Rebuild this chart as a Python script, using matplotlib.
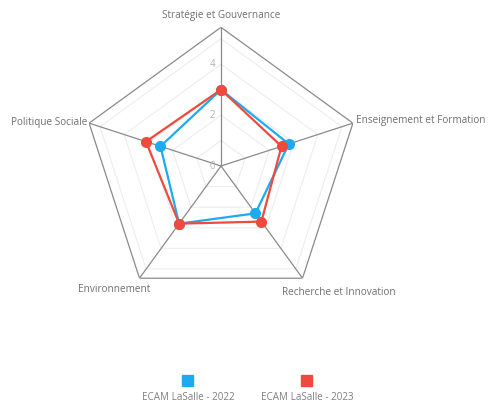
import numpy as np
import matplotlib.pyplot as plt
from matplotlib.patches import Rectangle

categories = ['Stratégie et Gouvernance', 'Enseignement et Formation',
              'Recherche et Innovation', 'Environnement', 'Politique Sociale']
scores_2022 = [3.0, 2.8, 2.3, 2.8, 2.5]
scores_2023 = [3.0, 2.5, 2.7, 2.8, 3.1]
series_names = ['ECAM LaSalle - 2022', 'ECAM LaSalle - 2023']
tick_values = [0, 2, 4]

blue = '#1eaaf1'
red = '#ef4a3d'
rmax = 5.45

plt.rcParams['font.family'] = ['Open Sans', 'DejaVu Sans']

fig = plt.figure(figsize=(4.89, 4.03), dpi=100)
W, H = 489, 403
cx, cy, R = 221, 166, 138.7
ax = fig.add_axes([(cx - R) / W, 1 - (cy + R) / H, 2 * R / W, 2 * R / H], polar=True)
ax.set_theta_offset(np.pi / 2)
ax.set_theta_direction(-1)
ax.set_ylim(0, rmax)
ax.axis('off')

n = len(categories)
angles = np.linspace(0, 2 * np.pi, n, endpoint=False).tolist()
closed = angles + angles[:1]

# grid pentagons
for lvl in [1, 2, 3, 4, 5]:
    ax.plot(closed, [lvl] * (n + 1), color='#ededed', lw=0.8, zorder=1)
ax.plot(closed, [rmax] * (n + 1), color='#8a8a8a', lw=0.9, zorder=2)
for a in angles:
    ax.plot([a, a], [0, rmax], color='#8a8a8a', lw=0.9, zorder=2)

# data
for vals, col in [(scores_2022, blue), (scores_2023, red)]:
    v = vals + vals[:1]
    ax.plot(closed, v, color=col, lw=1.6, zorder=3)
    ax.plot(angles, vals, 'o', color=col, ms=7, zorder=4)

# tick labels
for t in tick_values:
    ax.annotate(str(t), (0, t), xytext=(-6, 0), textcoords='offset pixels',
                ha='right', va='center', fontsize=7, color='#b0b0b0')

# category labels
offsets = [((0, 12), 'center'), ((3, 3), 'left'), ((-21, -14), 'left'),
           ((11, -11), 'right'), ((-2, 1), 'right')]
for a, lab, (off, ha) in zip(angles, categories, offsets):
    ax.annotate(lab, (a, rmax), xytext=off, textcoords='offset pixels',
                ha=ha, va='center', fontsize=7.2, color='#707070')

# legend
for name, col, x in zip(series_names, [blue, red], [188, 307]):
    fig.add_artist(Rectangle(((x - 5.5) / W, 1 - 386 / H), 11 / W, 11 / H,
                             color=col, transform=fig.transFigure))
    fig.text(x / W, 1 - 397 / H, name, ha='center', va='center',
             fontsize=7.1, color='#808080')

fig.savefig('out.png', dpi=100)
